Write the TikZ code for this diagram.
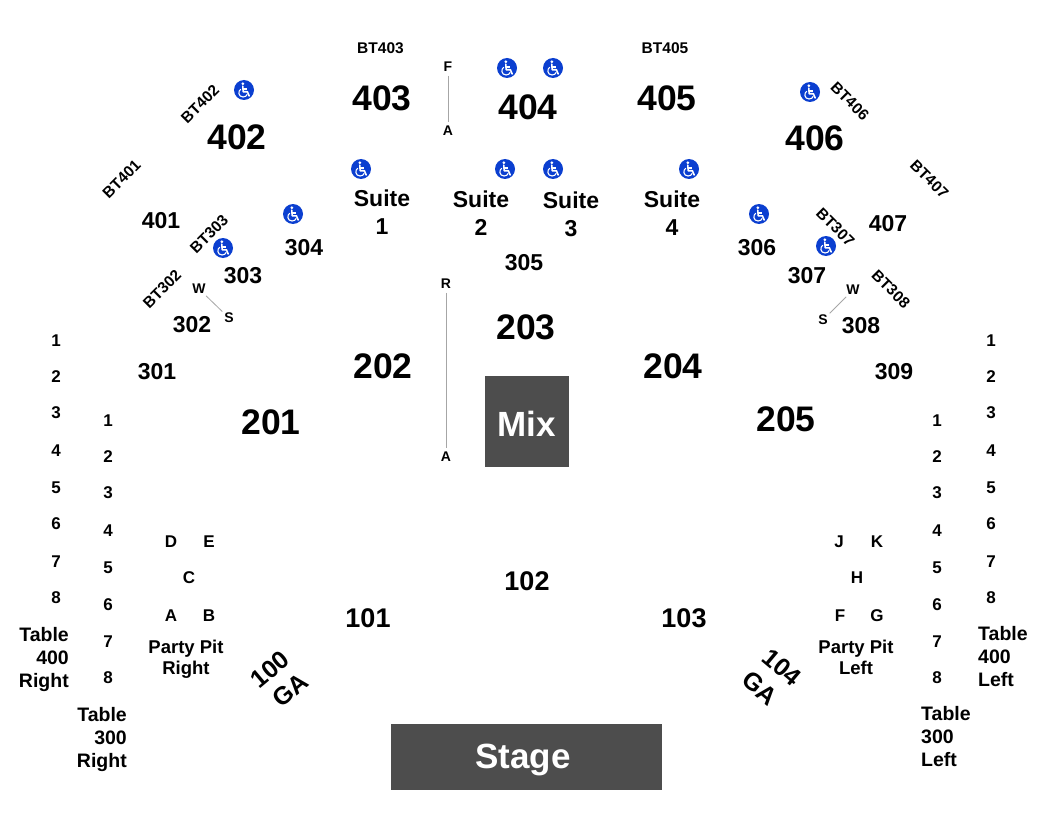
\documentclass[tikz,border=0pt]{standalone}
\usepackage{fontspec}
\setmainfont{Liberation Sans}
\tikzset{
  lab/.style={inner sep=0pt,outer sep=0pt,font=\bfseries\fontsize{#1}{#1}\selectfont,text=black,text depth=0pt},
  big/.style={lab=35.5},
  midsec/.style={lab=27},
  gasec/.style={lab=25},
  smallsec/.style={lab=23},
  num/.style={lab=17},
  letter/.style={lab=17},
  bt/.style={lab=15.5},
  tiny/.style={lab=14,inner sep=2pt},
  tall/.style={lab=14,inner sep=4pt},
  block/.style={fill=blockgray,draw=none,inner sep=0pt,minimum width=#1},
  blocktext/.style={font=\bfseries\fontsize{35}{35}\selectfont,text=white,inner sep=0pt},
  multi/.style={inner sep=0pt,font=\bfseries\fontsize{#1}{23}\selectfont,text=black},
  suite/.style={inner sep=0pt,align=center,font=\bfseries\fontsize{23}{28}\selectfont,text=black},
  pit/.style={inner sep=0pt,align=center,font=\bfseries\fontsize{18.5}{21}\selectfont,text=black},
  aisle/.style={draw=aislegray,line width=0.8pt},
  wheelchair/.pic={
    \fill[icon] (0,0) circle[radius=10];
    \fill[white] (-1.2,-6.3) circle[radius=1.5];
    \draw[white,line width=1.6pt,line join=round,line cap=round] (-1.2,-3.8) -- (-0.8,1.8) -- (3.4,1.8) -- (5.2,6);
    \draw[white,line width=1.2pt] (-1,-1) -- (3,-1);
    \draw[white,line width=1.1pt] (-3.2,-0.8) .. controls (-6.4,1) and (-5.6,7) .. (-1,7) .. controls (1.2,7) and (2.6,6) .. (3.2,4.4);
  }
}
\definecolor{blockgray}{HTML}{4D4D4D}
\definecolor{aislegray}{HTML}{A6A6A6}
\definecolor{icon}{HTML}{0B3FD0}
\begin{document}
\begin{tikzpicture}[x=1pt,y=-1pt]
\useasboundingbox (0,0) rectangle (1050,840);
\fill[white] (0,0) rectangle (1050,840);
% blocks
\node[block=84pt,minimum height=91pt] (mix) at (527,421.5) {};
\node[blocktext] (mixt) at (526.5,424) {Mix};
\node[block=271pt,minimum height=66pt] (stage) at (526.5,757) {};
\node[blocktext] (staget) at (523,760) {Stage};
% big sections
\foreach \n/\x/\y in {402/237/137,403/382/98,404/528/107,405/667/98,406/815/138,202/383/366,203/526/327,204/673/366,201/271/422,205/786/419}
  \node[big] (s\n) at (\x,\y) {\n};
% middle sections
\foreach \n/\x/\y in {101/368/618,102/527/581,103/684/618}
  \node[midsec] (s\n) at (\x,\y) {\n};
% small sections
\foreach \n/\x/\y in {401/161/220,304/304/247,303/243/275,302/192/324,301/157/371,305/524/262,306/757/247,307/807/275,308/861/325,309/894/371,407/888/223}
  \node[smallsec] (s\n) at (\x,\y) {\n};
% BT labels
\node[bt] (bt403) at (380.5,48) {BT403};
\node[bt] (bt405) at (665,48) {BT405};
\node[bt,rotate=45] (bt402) at (200,104) {BT402};
\node[bt,rotate=45] (bt401) at (121.5,179) {BT401};
\node[bt,rotate=45] (bt303) at (209,234) {BT303};
\node[bt,rotate=45] (bt302) at (162,289) {BT302};
\node[bt,rotate=-45] (bt406) at (850,101) {BT406};
\node[bt,rotate=-45] (bt407) at (929.5,179) {BT407};
\node[bt,rotate=-45] (bt307) at (835.5,227) {BT307};
\node[bt,rotate=-45] (bt308) at (891,289) {BT308};
% suites
\node[suite] (suite1) at (382,212) {Suite\\1};
\node[suite] (suite2) at (481,213) {Suite\\2};
\node[suite] (suite3) at (571,214) {Suite\\3};
\node[suite] (suite4) at (672,213.5) {Suite\\4};
% aisle letters and lines
\node[tall] (f1) at (448,67) {F};
\node[tall] (a1) at (448,131) {A};
\node[tall] (r1) at (446,284) {R};
\node[tall] (a2) at (446,457) {A};
\node[tiny] (w1) at (199,289) {W};
\node[tiny] (s1) at (229,318) {S};
\node[tiny] (w2) at (853,290) {W};
\node[tiny] (s2) at (823,320) {S};
\draw[aisle] (f1) -- (a1);
\draw[aisle] (r1) -- (a2);
\draw[aisle] (w1) -- (s1);
\draw[aisle] (w2) -- (s2);
% table numbers
\foreach \n/\y in {1/341,2/377,3/413,4/451,5/488,6/524,7/562,8/598}{
  \node[num] (la\n) at (56,\y) {\n};
  \node[num] (ra\n) at (991,\y) {\n};
}
\foreach \n/\y in {1/421,2/457,3/493,4/531,5/568,6/605,7/642,8/678}{
  \node[num] (lb\n) at (108,\y) {\n};
  \node[num] (rb\n) at (937,\y) {\n};
}
% table captions
\node[multi=19.5,align=right,anchor=east] (t400r) at (69,659) {Table\\400\\Right};
\node[multi=19.5,align=right,anchor=east] (t300r) at (127,739) {Table\\300\\Right};
\node[multi=19.5,align=left,anchor=west] (t400l) at (978,657) {Table\\400\\Left};
\node[multi=19.5,align=left,anchor=west] (t300l) at (921,737) {Table\\300\\Left};
% party pit
\foreach \n/\x/\y in {D/171/542,E/209/542,C/189/578,A/171/616,B/209/616,J/839/542,K/877/542,H/857/578,F/840/616,G/877/616}
  \node[letter] (p\n) at (\x,\y) {\n};
\node[pit] (ppr) at (186,659) {Party Pit\\Right};
\node[pit] (ppl) at (856,657.5) {Party Pit\\Left};
% GA
\node[gasec,rotate=40] (s100) at (270,669) {100};
\node[gasec,rotate=40] (ga100) at (290,690) {GA};
\node[gasec,rotate=-40] (s104) at (782,667) {104};
\node[gasec,rotate=-40] (ga104) at (760,688) {GA};
% accessible icons
\foreach \x/\y in {244/90,507/68,553/68,361/169,505/169,553/169,689/169,293/214,223/248,810/92,759/214,826/246}
  \pic at (\x,\y) {wheelchair};
\end{tikzpicture}
\end{document}
